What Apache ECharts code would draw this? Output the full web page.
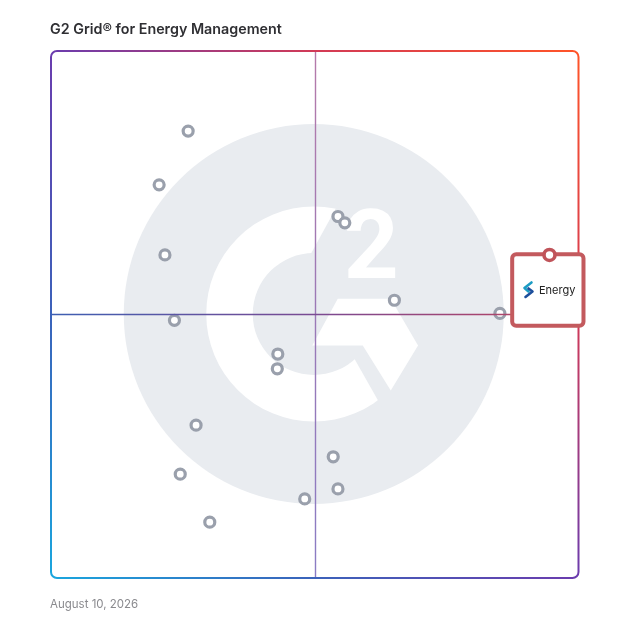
<!DOCTYPE html>
<html><head><meta charset="utf-8">
<script src="https://cdn.jsdelivr.net/npm/echarts@6/dist/echarts.min.js"></script>
<style>html,body{margin:0;padding:0;background:#fff}#c{width:628px;height:628px}</style>
</head><body><div id="c"></div>
<script>
// ---- data ----
const chartTitle = 'G2 Grid® for Energy Management';
const dateLabel = 'August 10, 2026';
const vendorX = [26.0, 20.5, 21.6, 23.4, 54.4, 55.7, 65.1, 85.1, 43.0, 42.9, 27.5, 53.5, 24.5, 54.4, 48.1, 30.1];
const vendorY = [84.8, 74.6, 61.3, 48.9, 68.6, 67.4, 52.7, 50.2, 42.5, 39.7, 29.0, 23.0, 19.7, 16.9, 15.0, 10.6];
const featuredName = 'Energy';
const featuredX = [94.5];
const featuredY = [61.3];
const axisMin = 0, axisMax = 100, midValue = 50;

// ---- layout ----
const GL = 51, GT = 51, GW = 527.5, GH = 527;
const LG = echarts.graphic.LinearGradient;

const chart = echarts.init(document.getElementById('c'), null, {renderer: 'canvas'});
const hidden = {show: false};
const axisBase = {type: 'value', min: axisMin, max: axisMax, axisLine: hidden, axisTick: hidden, axisLabel: hidden, splitLine: hidden};

chart.setOption({
  animation: false,
  backgroundColor: '#fff',
  title: [
    {text: chartTitle, left: 50, top: 22.5, padding: 0, textStyle: {fontFamily: 'Inter', fontWeight: 600, fontSize: 14.3, color: '#2f2f33'}},
    {text: dateLabel, left: 50, top: 598.5, padding: 0, textStyle: {fontFamily: 'Inter', fontWeight: 400, fontSize: 11.5, color: '#8a8a8e'}}
  ],
  grid: {left: GL, top: GT, width: GW, height: GH, show: false},
  xAxis: axisBase,
  yAxis: axisBase,
  series: [
    {
      type: 'scatter', z: 4,
      data: vendorX.map((x, i) => [x, vendorY[i]]),
      symbol: 'circle', symbolSize: 10,
      itemStyle: {color: '#ffffff', borderColor: '#9aa0ac', borderWidth: 3.2, opacity: 1},
      markLine: {
        silent: true, symbol: 'none', label: {show: false}, animation: false,
        data: [
          {xAxis: midValue, lineStyle: {type: 'solid', width: 1.4, color: new LG(0, GT, 0, GT + GH, [{offset: 0, color: '#b57aaa'}, {offset: 0.5, color: '#9a78b6'}, {offset: 1, color: '#8a7cc4'}], true)}},
          {yAxis: midValue, lineStyle: {type: 'solid', width: 1.4, color: new LG(GL, 0, GL + GW, 0, [{offset: 0, color: '#3e5fb2'}, {offset: 0.5, color: '#7a4a92'}, {offset: 1, color: '#c0435c'}], true)}}
        ]
      }
    },
    {
      type: 'scatter', z: 10, name: featuredName,
      data: featuredX.map((x, i) => [x, featuredY[i]]),
      symbol: 'circle', symbolSize: 11,
      itemStyle: {color: '#ffffff', borderColor: '#c0545a', borderWidth: 3.6, opacity: 1}
    }
  ]
});

// ---- decorations derived from the axes ----
const mid = chart.convertToPixel({gridIndex: 0}, [midValue, midValue]);
const cx = mid[0], cy = mid[1];
const tl = chart.convertToPixel({gridIndex: 0}, [axisMin, axisMax]);
const br = chart.convertToPixel({gridIndex: 0}, [axisMax, axisMin]);
const fp = chart.convertToPixel({gridIndex: 0}, [featuredX[0], featuredY[0]]);
const off = (pts) => pts.map(p => [cx + p[0], cy + p[1]]);

const frameGrad = new LG(br[0], tl[1], tl[0], br[1], [
  {offset: 0, color: '#ff5428'},
  {offset: 0.25, color: '#d23a56'},
  {offset: 0.5, color: '#6b3cae'},
  {offset: 0.75, color: '#3b62ba'},
  {offset: 1, color: '#1aa6de'}
], true);

chart.setOption({
  graphic: [
    {type: 'circle', silent: true, z: 0, shape: {cx: cx - 1, cy: cy - 0.5, r: 190}, style: {fill: '#e9ecf0'}},
    {type: 'ring', silent: true, z: 0, shape: {cx: cx - 1, cy: cy - 0.5, r: 107.5, r0: 61}, style: {fill: '#ffffff'}},
    {type: 'polygon', silent: true, z: 0, shape: {points: off([[-11.7, -46.6], [33.7, -129], [125, -129], [125, 136], [91.6, 136]])}, style: {fill: '#e9ecf0'}},
    {type: 'polygon', silent: true, z: 0, shape: {points: off([[23, -15.7], [76, -15.7], [103.3, 31], [76, 76], [48, 31], [-2.5, 31]])}, style: {fill: '#ffffff'}},
    {type: 'text', silent: true, z: 0, style: {text: '2', x: cx + 56.5, y: cy - 13, fill: '#ffffff', font: 'bold 96px Roboto', textAlign: 'center', textVerticalAlign: 'bottom'}},
    {type: 'rect', silent: true, z: 5, shape: {x: tl[0], y: tl[1], width: br[0] - tl[0], height: br[1] - tl[1], r: 6}, style: {fill: 'none', stroke: frameGrad, lineWidth: 2}},
    {type: 'rect', silent: true, z: 6, shape: {x: fp[0] - 37.3, y: fp[1] - 0.7, width: 71.3, height: 71.4, r: 4}, style: {fill: '#ffffff', stroke: '#c35a5e', lineWidth: 4}},
    {type: 'polyline', silent: true, z: 7, shape: {points: [[fp[0] - 18, fp[1] + 27.5], [fp[0] - 25, fp[1] + 33], [fp[0] - 21, fp[1] + 36.5]]}, style: {stroke: '#1c9cc4', lineWidth: 2.6, lineCap: 'round', lineJoin: 'round', fill: 'none'}},
    {type: 'polyline', silent: true, z: 7, shape: {points: [[fp[0] - 21, fp[1] + 33.5], [fp[0] - 17, fp[1] + 36.5], [fp[0] - 24, fp[1] + 42]]}, style: {stroke: '#1d4f9c', lineWidth: 2.6, lineCap: 'round', lineJoin: 'round', fill: 'none'}},
    {type: 'text', silent: true, z: 7, style: {text: featuredName, x: fp[0] - 10.5, y: fp[1] + 35.5, fill: '#222', font: '400 11px Inter', textAlign: 'left', textVerticalAlign: 'middle'}}
  ]
});
</script>
</body></html>
